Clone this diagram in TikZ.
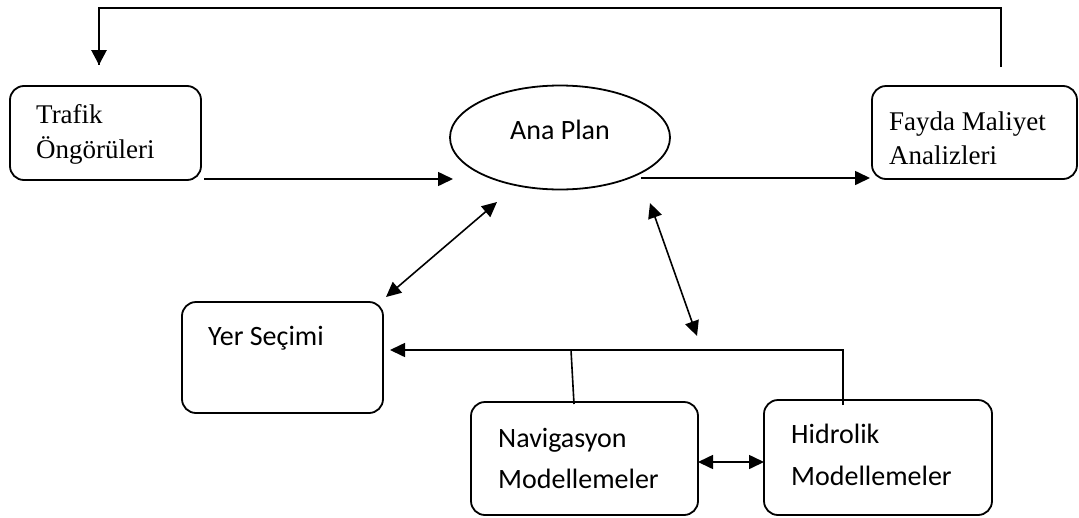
\documentclass[tikz,border=0pt]{standalone}
\usepackage{fontspec}
\newfontfamily\serifA{Liberation Serif}
\newfontfamily\sansA{Carlito}
\usetikzlibrary{arrows.meta,shapes.geometric}
\tikzset{
  box/.style={draw, line width=1.8pt, rounded corners=14pt, inner sep=0pt},
  oval/.style={draw, ellipse, line width=1.8pt, inner sep=0pt},
  conn/.style={line width=1.6pt, -{Triangle[length=15pt,width=14pt]}},
  biconn/.style={line width=1.6pt, {Triangle[length=15pt,width=14pt]}-{Triangle[length=15pt,width=14pt]}},
  plain/.style={line width=1.6pt},
  feed/.style={line width=2.8pt},
  stxt/.style={anchor=base west, inner sep=0pt, font=\serifA\fontsize{27}{32}\selectfont},
  ctxt/.style={anchor=base west, inner sep=0pt, font=\sansA\fontsize{28}{34}\selectfont},
}
\begin{document}
\begin{tikzpicture}[x=1pt,y=-1pt]
\useasboundingbox (0,0) rectangle (1079,517);
% boxes
\node[box, minimum width=191pt, minimum height=94pt] (traf) at (105.5,133) {};
\node[box, minimum width=205pt, minimum height=93pt] (fayda) at (974.5,132.5) {};
\node[oval, minimum width=220pt, minimum height=104pt] (ana) at (560,137.5) {};
\node[box, minimum width=201pt, minimum height=111pt] (yer) at (282.5,357.5) {};
\node[box, minimum width=227pt, minimum height=113pt] (nav) at (584.5,458.5) {};
\node[box, minimum width=228pt, minimum height=115pt] (hid) at (878,457.5) {};
% texts
\node[stxt] (trafA) at (36,123) {Trafik};
\node[stxt] (trafB) at (36,158) {Öngörüleri};
\node[stxt] (faydaA) at (889,130) {Fayda Maliyet};
\node[stxt] (faydaB) at (889,164) {Analizleri};
\node[ctxt, anchor=base] (anaT) at (560,139) {Ana Plan};
\node[ctxt] (yerT) at (208,345) {Yer Seçimi};
\node[ctxt] (navA) at (498,447) {Navigasyon};
\node[ctxt] (navB) at (498,488) {Modellemeler};
\node[ctxt] (hidA) at (791,443) {Hidrolik};
\node[ctxt] (hidB) at (791,485) {Modellemeler};
% connector end points
\coordinate (fbStart) at (1001,67);
\coordinate (fbR) at (1001,8);
\coordinate (fbL) at (99,8);
\coordinate (fbEnd) at (99,65);
\coordinate (taA) at (204,179);
\coordinate (taB) at (453,179);
\coordinate (afA) at (641,178);
\coordinate (afB) at (870,178);
\coordinate (yaA) at (386,297);
\coordinate (yaB) at (497,202);
\coordinate (anA) at (650,203);
\coordinate (anB) at (697,336);
\coordinate (hidTop) at (843,405);
\coordinate (hidCorner) at (843,350);
\coordinate (yerIn) at (390,350);
\coordinate (navTop) at (574,404);
\coordinate (navJoin) at (571,350);
\coordinate (nhA) at (698,462);
\coordinate (nhB) at (764,462);
% connectors
\draw[feed] (fbStart) -- (fbR) -- (fbL) -- (fbL |- fbEnd);
\draw[feed, -{Triangle[length=15pt,width=15pt]}] (fbL) -- (fbEnd);
\draw[conn] (taA) -- (taB);
\draw[conn] (afA) -- (afB);
\draw[biconn] (yaA) -- (yaB);
\draw[biconn] (anA) -- (anB);
\draw[conn] (hidTop) -- (hidCorner) -- (yerIn);
\draw[plain] (navTop) -- (navJoin);
\draw[biconn] (nhA) -- (nhB);
\end{tikzpicture}
\end{document}
